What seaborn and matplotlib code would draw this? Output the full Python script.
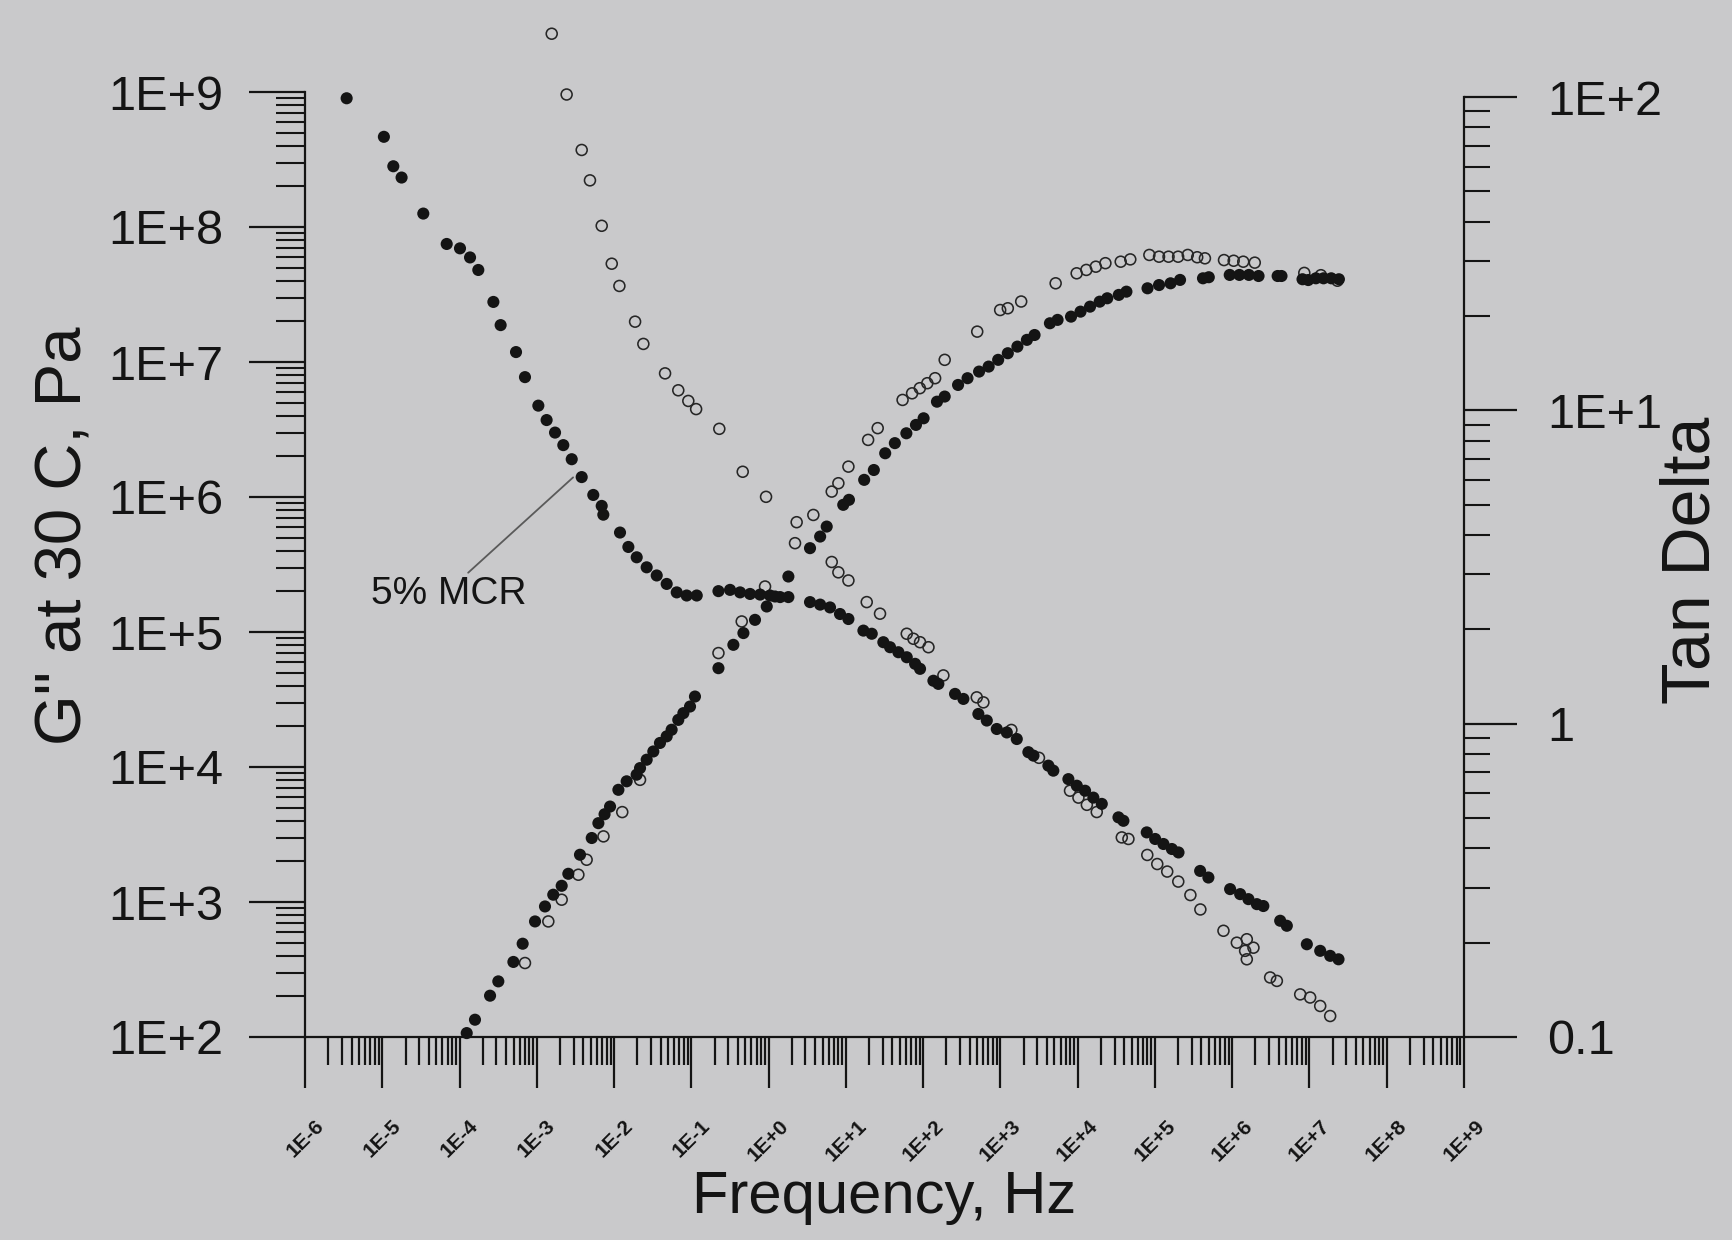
import numpy as np
import pandas as pd
import matplotlib
matplotlib.use("Agg")
import matplotlib.pyplot as plt
from matplotlib.ticker import LogLocator, NullFormatter
import seaborn as sns

sns.set_theme(style="ticks")
plt.rcParams['font.family'] = ['Liberation Sans', 'DejaVu Sans']

# values, stored as log10 (decades)
# filled circles, Tan Delta (right axis)
tan_fill_f = [-5.461, -4.979, -4.857, -4.750, -4.469, -4.166, -3.994, -3.864, -3.757, -3.562,
              -3.468, -3.269, -3.153, -2.980, -2.873, -2.764, -2.657, -2.548, -2.419, -2.269,
              -2.160, -2.139, -1.923, -1.815, -1.707, -1.578, -1.448, -1.319, -1.189, -1.060,
              -0.930, -0.649, -0.499, -0.369, -0.240, -0.110, 0.019, 0.149, 0.256, 0.536,
              0.667, 0.795, 0.924, 1.033, 1.227, 1.335, 1.485, 1.572, 1.680, 1.788,
              1.896, 1.960, 2.133, 2.197, 2.413, 2.521, 2.715, 2.824, 2.953, 3.083,
              3.212, 3.362, 3.428, 3.621, 3.685, 3.880, 3.989, 4.096, 4.203, 4.312,
              4.528, 4.592, 4.894, 5.003, 5.110, 5.219, 5.305, 5.585, 5.692, 5.973,
              6.103, 6.210, 6.319, 6.403, 6.621, 6.707, 6.966, 7.139, 7.268, 7.376]
tan_fill_v = [1.996, 1.873, 1.779, 1.743, 1.628, 1.531, 1.517, 1.488, 1.448, 1.346,
              1.272, 1.186, 1.106, 1.015, 0.969, 0.929, 0.889, 0.844, 0.787, 0.730,
              0.695, 0.667, 0.610, 0.564, 0.531, 0.499, 0.473, 0.446, 0.419, 0.409,
              0.409, 0.423, 0.427, 0.419, 0.414, 0.412, 0.409, 0.404, 0.404, 0.388,
              0.380, 0.371, 0.350, 0.334, 0.297, 0.287, 0.260, 0.244, 0.228, 0.212,
              0.191, 0.175, 0.137, 0.127, 0.095, 0.079, 0.031, 0.010, -0.017, -0.028,
              -0.049, -0.091, -0.102, -0.134, -0.150, -0.177, -0.198, -0.214, -0.236, -0.256,
              -0.299, -0.310, -0.347, -0.368, -0.384, -0.400, -0.411, -0.470, -0.491, -0.528,
              -0.544, -0.560, -0.576, -0.582, -0.629, -0.645, -0.704, -0.725, -0.741, -0.752]

# filled circles, G'' (left axis)
gpp_fill_f = [-3.907, -3.800, -3.605, -3.498, -3.303, -3.183, -3.023, -2.894, -2.787, -2.678,
              -2.592, -2.441, -2.289, -2.203, -2.123, -2.052, -1.944, -1.837, -1.708, -1.664,
              -1.578, -1.492, -1.406, -1.319, -1.255, -1.169, -1.103, -1.017, -0.953, -0.649,
              -0.456, -0.326, -0.176, -0.024, 0.083, 0.256, 0.536, 0.667, 0.752, 0.966,
              1.040, 1.237, 1.362, 1.509, 1.634, 1.783, 1.907, 2.006, 2.179, 2.279,
              2.452, 2.575, 2.724, 2.848, 2.971, 3.096, 3.220, 3.343, 3.442, 3.641,
              3.740, 3.914, 4.037, 4.160, 4.285, 4.383, 4.532, 4.631, 4.904, 5.053,
              5.202, 5.325, 5.622, 5.697, 5.968, 6.093, 6.216, 6.341, 6.588, 6.638,
              6.910, 6.984, 7.083, 7.182, 7.282, 7.381]
gpp_fill_v = [2.029, 2.128, 2.306, 2.412, 2.556, 2.691, 2.856, 2.967, 3.054, 3.120,
              3.209, 3.350, 3.474, 3.584, 3.650, 3.707, 3.831, 3.894, 3.943, 3.992,
              4.054, 4.115, 4.178, 4.227, 4.276, 4.349, 4.399, 4.448, 4.522, 4.732,
              4.905, 4.992, 5.090, 5.189, 5.263, 5.411, 5.621, 5.707, 5.781, 5.942,
              5.979, 6.127, 6.200, 6.324, 6.399, 6.472, 6.534, 6.583, 6.706, 6.744,
              6.830, 6.880, 6.929, 6.966, 7.016, 7.065, 7.114, 7.164, 7.200, 7.287,
              7.312, 7.336, 7.373, 7.410, 7.447, 7.472, 7.497, 7.521, 7.546, 7.570,
              7.583, 7.608, 7.620, 7.628, 7.645, 7.645, 7.645, 7.637, 7.637, 7.637,
              7.613, 7.607, 7.620, 7.620, 7.620, 7.613]

# open circles, Tan Delta (right axis)
tan_open_f = [-2.807, -2.614, -2.419, -2.312, -2.160, -2.030, -1.931, -1.728, -1.621, -1.340,
              -1.169, -1.039, -0.938, -0.638, -0.335, -0.033, 0.363, 0.817, 0.903, 1.033,
              1.270, 1.442, 1.788, 1.874, 1.960, 2.069, 2.262, 2.694, 2.780, 3.142,
              3.499, 3.901, 4.010, 4.119, 4.247, 4.571, 4.657, 4.901, 5.030, 5.159,
              5.302, 5.459, 5.588, 5.887, 6.060, 6.189, 6.167, 6.275, 6.189, 6.491,
              6.578, 6.880, 7.009, 7.139, 7.268]
tan_open_v = [2.202, 2.008, 1.831, 1.734, 1.589, 1.468, 1.397, 1.283, 1.212, 1.118,
              1.064, 1.030, 1.004, 0.941, 0.804, 0.724, 0.643, 0.516, 0.483, 0.457,
              0.388, 0.351, 0.287, 0.271, 0.260, 0.244, 0.154, 0.084, 0.068, -0.020,
              -0.109, -0.214, -0.236, -0.259, -0.282, -0.363, -0.368, -0.419, -0.448, -0.472,
              -0.504, -0.547, -0.593, -0.661, -0.699, -0.688, -0.725, -0.715, -0.752, -0.810,
              -0.821, -0.864, -0.874, -0.901, -0.933]

# open circles, G'' (left axis)
gpp_open_f = [-3.153, -2.851, -2.678, -2.462, -2.355, -2.137, -1.894, -1.664, -0.649, -0.348,
              -0.046, 0.342, 0.579, 0.817, 0.903, 1.033, 1.288, 1.412, 1.734, 1.857,
              1.957, 2.054, 2.155, 2.279, 2.700, 2.997, 3.096, 3.269, 3.715, 3.987,
              4.112, 4.235, 4.359, 4.557, 4.681, 4.928, 5.053, 5.176, 5.300, 5.425,
              5.547, 5.647, 5.894, 6.019, 6.143, 6.292, 6.933, 7.148, 7.362]
gpp_open_v = [2.548, 2.856, 3.017, 3.202, 3.313, 3.486, 3.666, 3.905, 4.844, 5.078,
              5.337, 5.658, 5.867, 6.040, 6.102, 6.225, 6.423, 6.510, 6.719, 6.768,
              6.806, 6.843, 6.880, 7.016, 7.225, 7.385, 7.398, 7.448, 7.583, 7.657,
              7.682, 7.706, 7.732, 7.743, 7.760, 7.793, 7.780, 7.780, 7.780, 7.793,
              7.776, 7.768, 7.755, 7.750, 7.743, 7.736, 7.660, 7.643, 7.602]

x_labels = ["1E-6", "1E-5", "1E-4", "1E-3", "1E-2", "1E-1", "1E+0", "1E+1",
            "1E+2", "1E+3", "1E+4", "1E+5", "1E+6", "1E+7", "1E+8", "1E+9"]
left_labels = ["1E+2", "1E+3", "1E+4", "1E+5", "1E+6", "1E+7", "1E+8", "1E+9"]
right_labels = ["0.1", "1", "1E+1", "1E+2"]

mcr_point = (2.95e-3, 6.11)   # Tan Delta point the "5% MCR" leader touches


def decades(f, v):
    return pd.DataFrame({"freq": 10.0 ** np.array(f), "val": 10.0 ** np.array(v)})


tan_fill = decades(tan_fill_f, tan_fill_v)
gpp_fill = decades(gpp_fill_f, gpp_fill_v)
tan_open = decades(tan_open_f, tan_open_v)
gpp_open = decades(gpp_open_f, gpp_open_v)

paper = "#c9c9cb"
ink = "#141414"

fig = plt.figure(figsize=(17.33, 12.40), dpi=100, facecolor=paper)
ax = fig.add_axes([305 / 1733, 203 / 1240, 1159 / 1733, 945 / 1240])
ax.set_facecolor("none")
ax2 = ax.twinx()
ax2.set_facecolor("none")

for a in (ax, ax2):
    a.set_xscale("log")
    a.set_yscale("log")

filled = dict(color=ink, s=76, edgecolor="none", linewidth=0, clip_on=False)
hollow = dict(facecolor="none", edgecolor="#262626", s=62, linewidth=1.15, clip_on=False)

sns.scatterplot(data=gpp_open, x="freq", y="val", ax=ax, **hollow)
sns.scatterplot(data=gpp_fill, x="freq", y="val", ax=ax, **filled)
sns.scatterplot(data=tan_open, x="freq", y="val", ax=ax2, **hollow)
sns.scatterplot(data=tan_fill, x="freq", y="val", ax=ax2, **filled)

ax.set_xlim(1e-6, 1e9)
ax.set_ylim(1e2, 1e9)
ax2.set_ylim(0.1, 10 ** 2.016)

# spines: open top, right axis only spans 0.1 .. 1E+2
ax.spines["top"].set_visible(False)
ax.spines["right"].set_visible(False)
for s in ("top", "left", "bottom"):
    ax2.spines[s].set_visible(False)
ax2.spines["right"].set_bounds(0.1, 100)
for sp in (ax.spines["left"], ax.spines["bottom"], ax2.spines["right"]):
    sp.set_linewidth(1.6)
    sp.set_color(ink)

ax.set_xticks([float(t) for t in x_labels], labels=x_labels, rotation=45, ha="center")
ax.set_yticks([float(t) for t in left_labels], labels=left_labels)
ax2.set_yticks([float(t) for t in right_labels], labels=right_labels)
for axis in (ax.xaxis, ax.yaxis, ax2.yaxis):
    axis.set_minor_locator(LogLocator(base=10, subs=np.arange(2, 10), numticks=40))
    axis.set_minor_formatter(NullFormatter())
for t in ax.get_xticklabels():
    t.set_fontweight("bold")

ax.tick_params(axis="x", which="major", direction="out", length=37, width=1.6,
               pad=20, labelsize=15, colors=ink)
ax.tick_params(axis="x", which="minor", direction="out", length=20, width=1.6, colors=ink)
ax.tick_params(axis="y", which="major", direction="out", length=40, width=1.6,
               pad=19, labelsize=35, colors=ink)
ax.tick_params(axis="y", which="minor", direction="out", length=21, width=1.5, colors=ink)
ax2.tick_params(axis="y", which="major", direction="out", length=38, width=1.6,
                pad=22, labelsize=35, colors=ink)
ax2.tick_params(axis="y", which="minor", direction="out", length=19, width=1.5, colors=ink)

ax.set_xlabel("Frequency, Hz", fontsize=43, color=ink)
ax.xaxis.set_label_coords(0.5, -0.141)
ax.set_ylabel('G" at 30 C, Pa', fontsize=47, color=ink, va="center", ha="center",
              rotation_mode="default")
ax.yaxis.set_label_coords(-0.2075, 0.530)
ax2.set_ylabel("Tan Delta", fontsize=49, color=ink, va="center", ha="center",
               rotation_mode="default", rotation=90)
ax2.yaxis.set_label_coords(1.1967, 0.504)

ax2.annotate("5% MCR", xy=mcr_point, xycoords="data",
             xytext=(449, 646), textcoords="figure pixels",
             ha="center", va="center", fontsize=28, color=ink,
             arrowprops=dict(arrowstyle="-", color="#5a5a5a", lw=1.3,
                             shrinkA=0, shrinkB=0, relpos=(0.6, 1.0)))

fig.savefig("out.png", dpi=100, facecolor=paper)
